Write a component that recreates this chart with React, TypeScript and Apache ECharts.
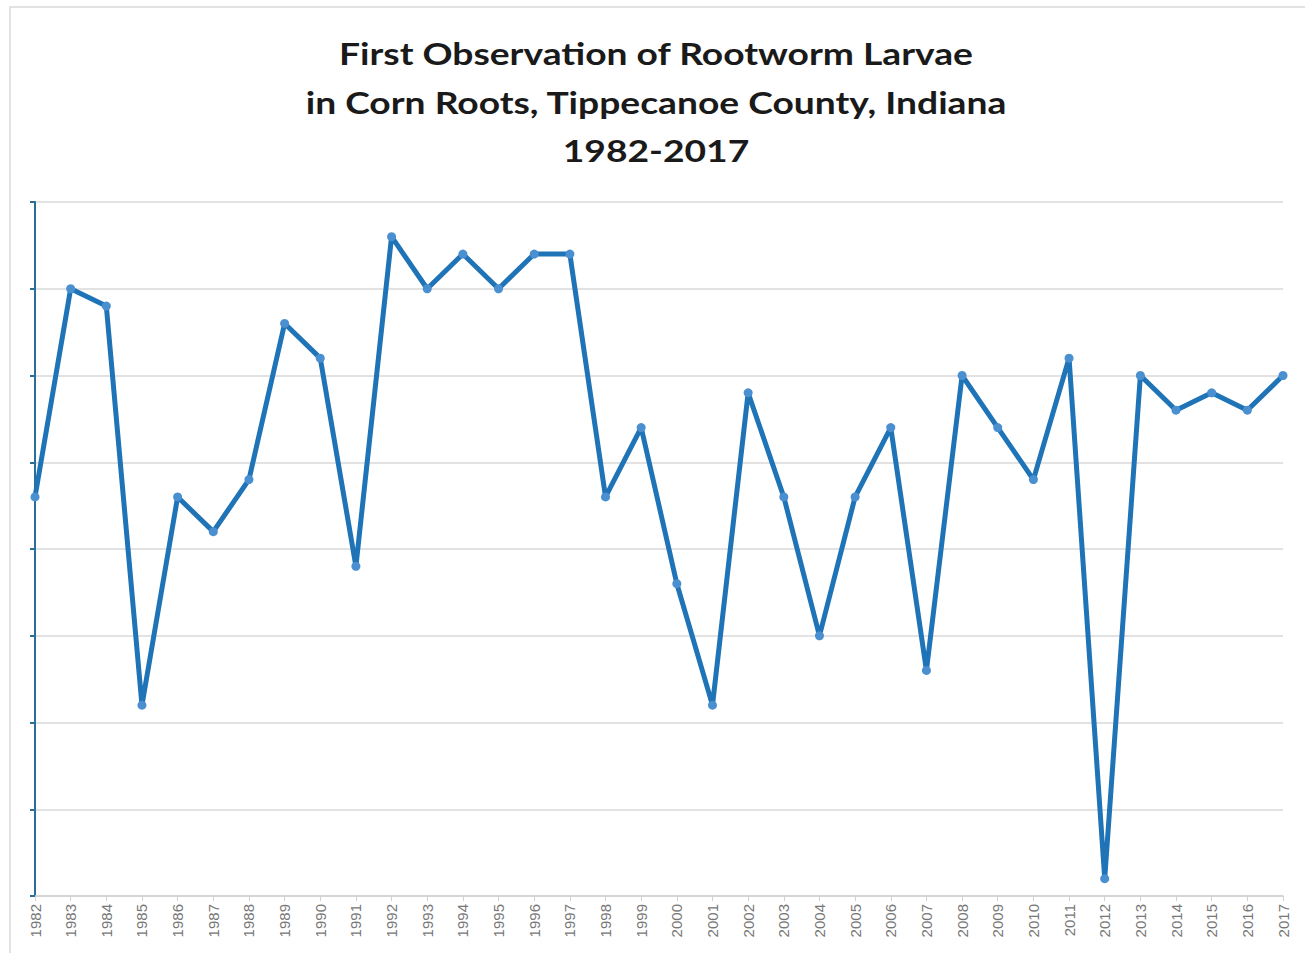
import React, { useEffect, useRef } from "react";
import * as echarts from "echarts";

const years: string[] = [
  "1982","1983","1984","1985","1986","1987","1988","1989","1990","1991",
  "1992","1993","1994","1995","1996","1997","1998","1999","2000","2001",
  "2002","2003","2004","2005","2006","2007","2008","2009","2010","2011",
  "2012","2013","2014","2015","2016","2017",
];
const firstObservation: number[] = [
  23, 35, 34, 11, 23, 21, 24, 33, 31, 19,
  38, 35, 37, 35, 37, 37, 23, 27, 18, 11,
  29, 23, 15, 23, 27, 13, 30, 27, 24, 31,
  1, 30, 28, 29, 28, 30,
];
const titleLines: string[] = [
  "First Observation of Rootworm Larvae",
  "in Corn Roots, Tippecanoe County, Indiana",
  "1982-2017",
];

export default function App() {
  const ref = useRef<HTMLDivElement>(null);
  useEffect(() => {
    if (!ref.current) return;
    const chart = echarts.init(ref.current, null, { renderer: "svg" });
    const titleGraphics = titleLines.map((t, i) => ({
      type: "text",
      x: 656,
      y: 53 + i * 48.5,
      scaleX: 1.2,
      silent: true,
      style: {
        text: t,
        fontFamily: "Lato",
        fontWeight: "bold",
        fontSize: 31,
        fill: "#1a1a1a",
        textAlign: "center",
        textVerticalAlign: "middle",
      },
    }));
    chart.setOption({
      animation: false,
      backgroundColor: "#ffffff",
      graphic: [
        {
          type: "rect",
          shape: { x: 10, y: 7, width: 1320, height: 980 },
          style: { fill: "none", stroke: "#d9d9d9", lineWidth: 1.5 },
          silent: true,
        },
        ...titleGraphics,
      ],
      grid: { left: 35, right: 22, top: 202, bottom: 57, containLabel: false },
      xAxis: {
        type: "category",
        data: years,
        boundaryGap: false,
        axisLine: { lineStyle: { color: "#d0d0d0", width: 1.5 } },
        axisTick: { show: true, alignWithLabel: true, length: 5, lineStyle: { color: "#d0d0d0" } },
        axisLabel: {
          rotate: 90,
          interval: 0,
          color: "#777777",
          fontFamily: "Liberation Sans",
          fontSize: 15,
          margin: 8,
        },
        splitLine: { show: false },
      },
      yAxis: {
        type: "value",
        min: 0,
        max: 40,
        interval: 5,
        axisLine: { show: true, lineStyle: { color: "#2a6f97", width: 2 } },
        axisTick: { show: true, inside: false, length: 5, lineStyle: { color: "#2a6f97", width: 2 } },
        axisLabel: { show: false },
        splitLine: { show: true, lineStyle: { color: "#d9d9d9", width: 1.5 } },
      },
      series: [
        {
          type: "line",
          data: firstObservation,
          symbol: "circle",
          symbolSize: 9,
          showSymbol: true,
          lineStyle: { color: "#1f73b7", width: 5 },
          itemStyle: { color: "#4a8fd0" },
          z: 3,
        },
      ],
    });
    return () => chart.dispose();
  }, []);
  return (
    <div
      ref={ref}
      style={{ position: "fixed", left: 0, top: 0, width: 1305, height: 953 }}
    />
  );
}
